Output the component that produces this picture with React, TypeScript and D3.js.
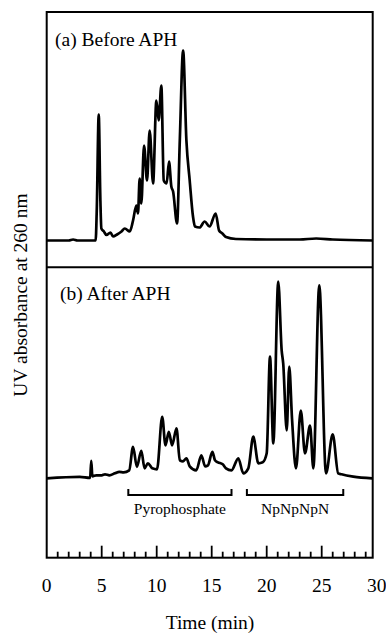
import React from "react";
import * as d3 from "d3";

// Panel (a) Before APH: time (min) and UV absorbance (arbitrary units)
const timeA = [0, 2.0, 2.4, 2.8, 4.45, 4.55, 4.73, 4.88, 4.97, 5.2, 5.43, 5.8, 6.03, 6.4, 6.8, 7.1, 7.55, 7.85, 8.15, 8.3, 8.45, 8.6, 8.85, 9.12, 9.36, 9.67, 9.97, 10.18, 10.42, 10.64, 10.9, 11.12, 11.33, 11.49, 11.85, 12.1, 12.4, 12.7, 13.0, 13.3, 13.48, 13.9, 14.36, 14.8, 15.36, 15.67, 15.97, 16.3, 17.2, 20, 23, 24.5, 26, 29.6];
const valueA = [0, 0, 1, 0, 0, 30, 126, 40, 12, 9, 5.5, 8, 4, 6, 9, 12, 9, 20, 35, 27, 62, 37, 95, 60, 110, 57, 140, 120, 155, 60, 57, 79, 54, 49, 17, 100, 190, 100, 60, 24, 14, 13, 19, 14, 27, 10, 7, 3.5, 1.5, 1, 1, 2, 1, 0];

// Panel (b) After APH
const timeB = [0, 3.0, 3.95, 4.05, 4.15, 4.5, 5.0, 5.3, 5.7, 6.2, 6.6, 7.0, 7.5, 7.85, 8.2, 8.6, 8.9, 9.2, 9.6, 10.03, 10.5, 10.8, 11.1, 11.4, 11.8, 12.1, 12.4, 12.7, 13.0, 13.6, 14.06, 14.4, 14.66, 15.06, 15.3, 15.57, 16.0, 16.3, 16.8, 17.42, 17.87, 18.33, 18.78, 19.24, 19.64, 20.0, 20.3, 20.6, 21.05, 21.36, 21.5, 21.82, 22.05, 22.3, 22.66, 23.1, 23.48, 23.94, 24.24, 24.78, 25.39, 26.0, 26.5, 26.8, 27.87, 29.6];
const valueB = [0, 1.5, 0.5, 17.5, 2, 3, 3, 4, 3, 5, 6.5, 6, 8, 31.5, 11.5, 27.5, 10, 15, 10, 9, 61.5, 33, 46.5, 33, 50, 18, 17, 20, 12, 8, 23, 12, 13, 26.5, 18, 16, 14, 10, 8, 20, 5, 10, 41.6, 15, 16, 25, 121.6, 35, 196.6, 128, 115, 48, 111.6, 60, 10, 67.6, 25, 52.6, 10, 193, 5, 44, 5, 4, 1.6, 0];

const xTicks = [0, 5, 10, 15, 20, 25, 30];
const minorTicks = d3.range(1, 30);

const brackets = [
  { label: "Pyrophosphate", from: 7.42, to: 16.8 },
  { label: "NpNpNpN", from: 18.2, to: 26.96 },
];

const panelLabels = ["(a) Before APH", "(b) After APH"];

export default function App() {
  const W = 386, H = 635;
  const left = 46.7, right = 372.7, top = 12, bottom = 557.7, divider = 267.3;
  const x = d3.scaleLinear().domain([0, 30]).range([left, left + 330]);
  const yA = d3.scaleLinear().domain([0, 200]).range([240.5, 40.5]);
  const yB = d3.scaleLinear().domain([0, 200]).range([478.3, 278.3]);

  const lineA = d3.line<number>().x((_, i) => x(timeA[i])).y((d) => yA(d)).curve(d3.curveMonotoneX);
  const lineB = d3.line<number>().x((_, i) => x(timeB[i])).y((d) => yB(d)).curve(d3.curveMonotoneX);

  const font = "'Liberation Serif', 'DejaVu Serif', serif";
  const ts = { fontFamily: font };

  return (
    <svg width={W} height={H} style={{ position: "absolute", left: 0, top: 0, background: "#fff", fontFamily: font }}>
      <rect x={left} y={top} width={right - left} height={bottom - top} fill="none" stroke="#000" strokeWidth={2} />
      <line x1={left} x2={right} y1={divider} y2={divider} stroke="#000" strokeWidth={2} />
      <path d={lineA(valueA) || ""} fill="none" stroke="#000" strokeWidth={2.7} strokeLinejoin="round" />
      <path d={lineB(valueB) || ""} fill="none" stroke="#000" strokeWidth={2.7} strokeLinejoin="round" />
      <text x={55} y={46} fontSize={19.5} style={ts}>{panelLabels[0]}</text>
      <text x={60} y={300} fontSize={19.5} style={ts}>{panelLabels[1]}</text>
      {brackets.map((b) => (
        <g key={b.label}>
          <path
            d={`M${x(b.from)},489 V495 H${x(b.to)} V489`}
            fill="none"
            stroke="#000"
            strokeWidth={2}
          />
          <text x={(x(b.from) + x(b.to)) / 2} y={514} fontSize={15.5} textAnchor="middle" style={ts}>{b.label}</text>
        </g>
      ))}
      {minorTicks.map((t) => (
        <line key={t} x1={x(t)} x2={x(t)} y1={bottom} y2={bottom - (t % 5 === 0 ? 12 : 6)} stroke="#000" strokeWidth={1.8} />
      ))}
      {xTicks.map((t) => (
        <text key={t} x={x(t)} y={592} fontSize={19.5} textAnchor="middle" style={ts}>{t}</text>
      ))}
      <text x={210} y={629} fontSize={19.5} textAnchor="middle" style={ts}>Time (min)</text>
      <text transform="translate(27,295) rotate(-90)" fontSize={19.5} textAnchor="middle" style={ts}>UV absorbance at 260 nm</text>
    </svg>
  );
}
